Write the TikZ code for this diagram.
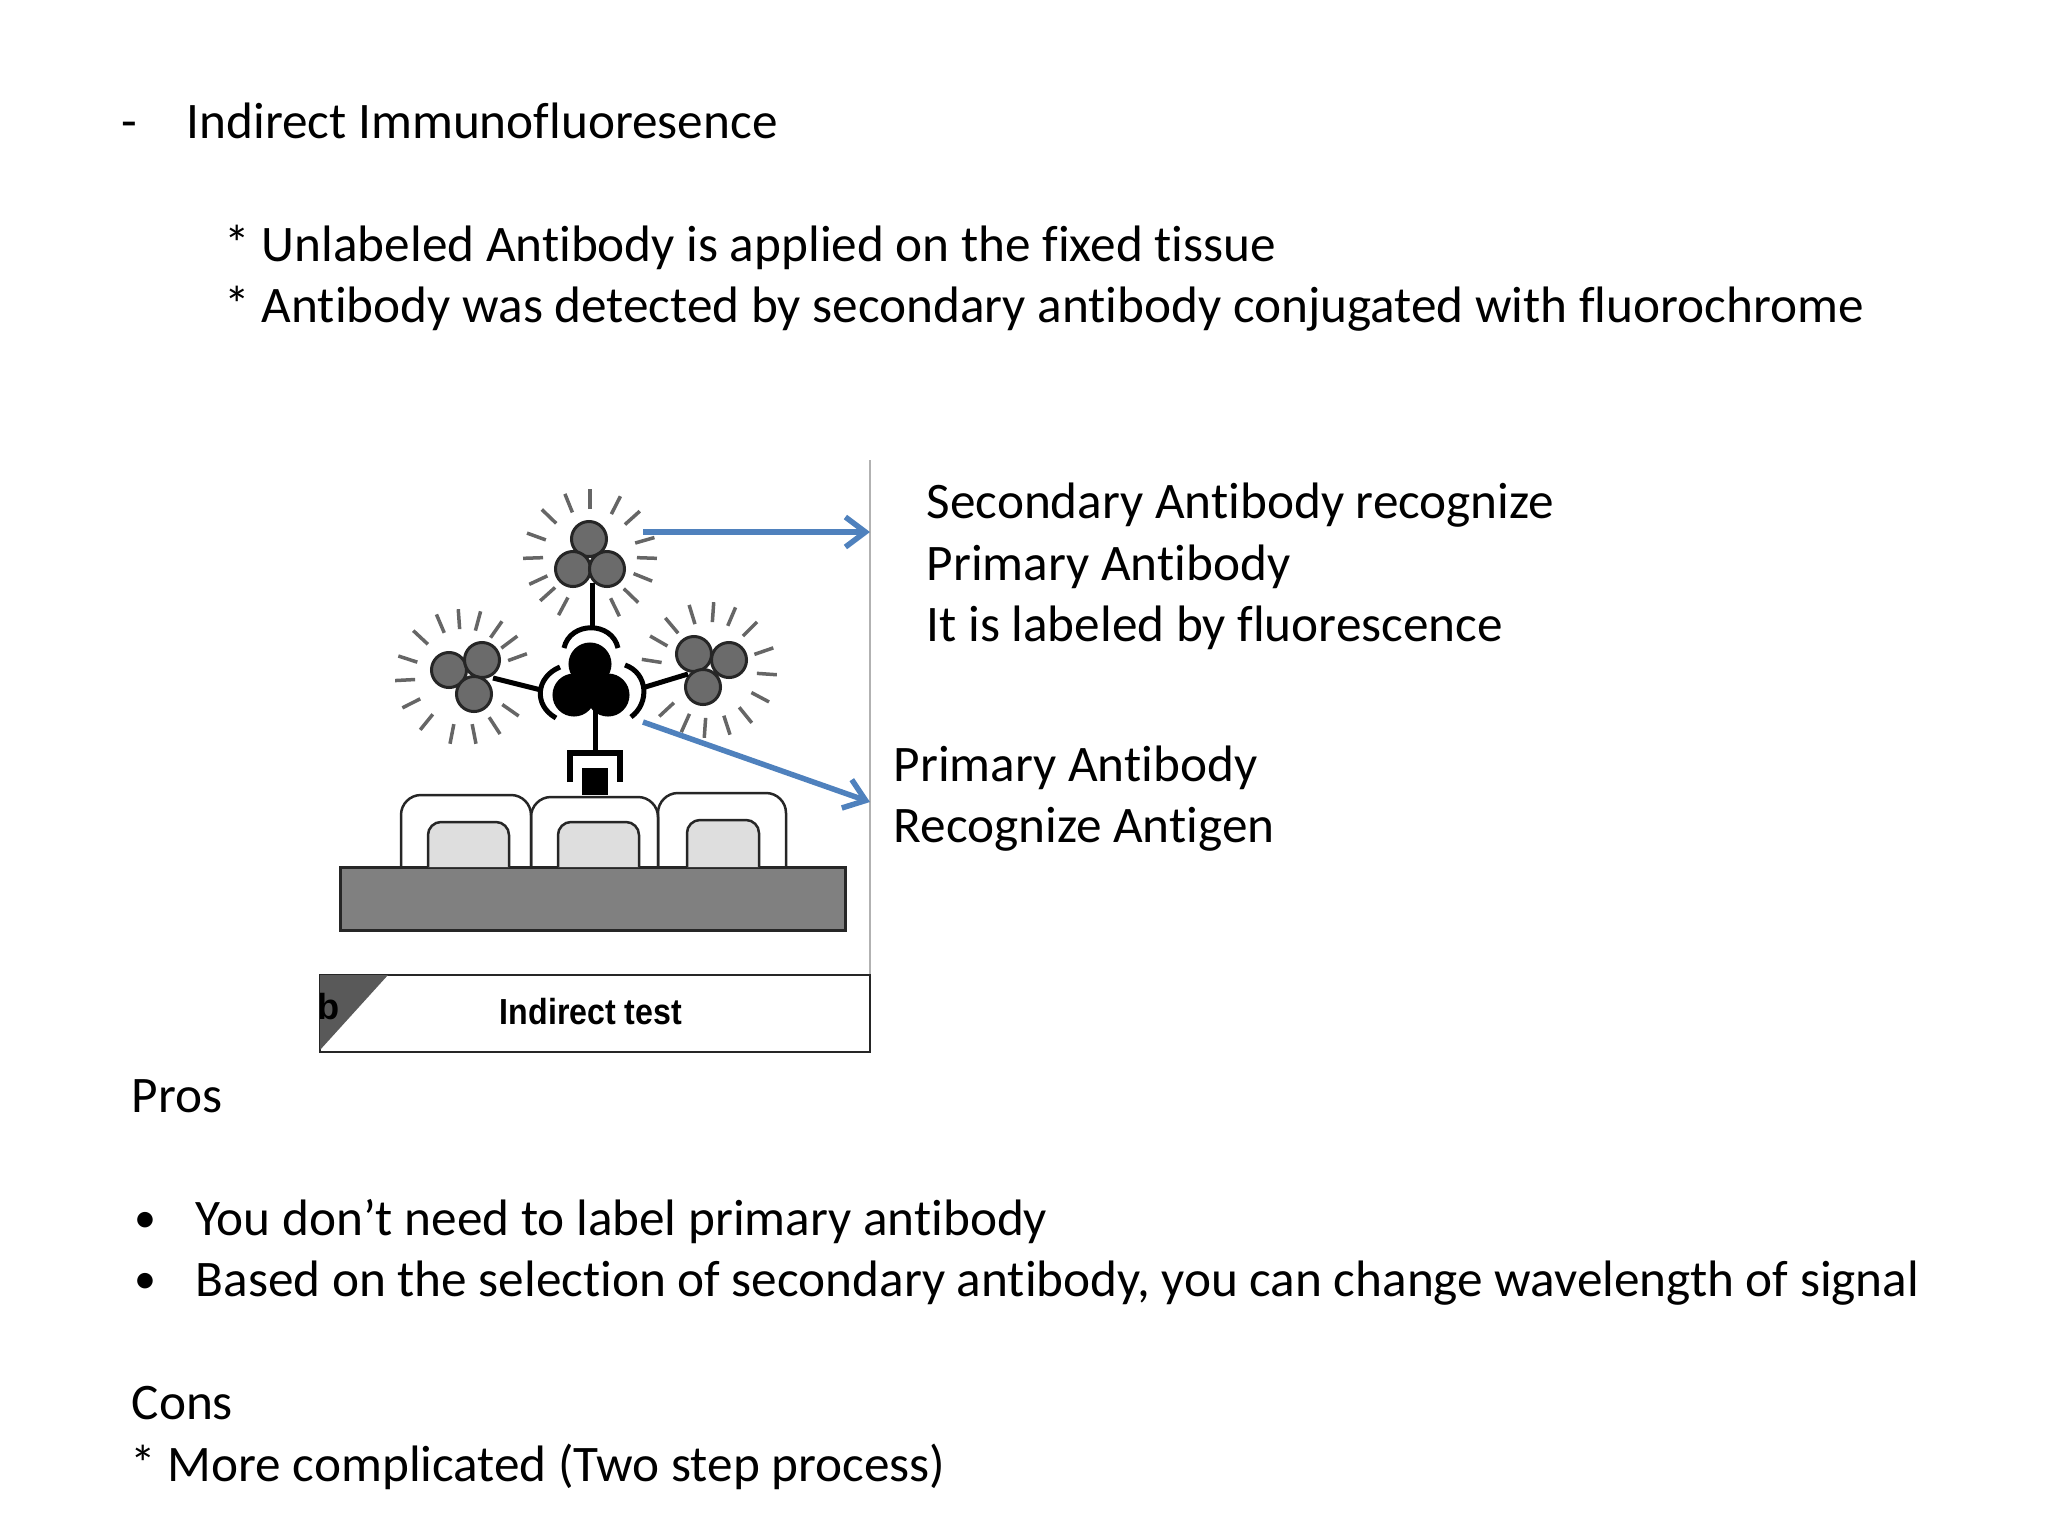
\documentclass[tikz,border=0pt]{standalone}
\usepackage{fontspec}
\setmainfont[Ligatures=NoCommon]{Carlito}
\newfontfamily\labelfont{Liberation Sans}
\usetikzlibrary{arrows.meta}
\definecolor{arrowblue}{HTML}{4F81BD}
\begin{document}
\begin{tikzpicture}[x=0.01cm,y=-0.01cm]
\tikzstyle{txt}    = [anchor=base west, inner sep=0pt, font=\fontsize{14.57pt}{17.5pt}\selectfont]
\tikzstyle{bul}    = [txt, font=\fontsize{12.5pt}{15pt}\selectfont]
\tikzstyle{tag}    = [inner sep=0pt, font=\labelfont\bfseries\fontsize{10.3pt}{11pt}\selectfont]
\tikzstyle{ball}   = [circle, minimum size=0.35cm, inner sep=0pt, draw=black!85, line width=0.03cm, fill=black!58]
\tikzstyle{inkball}= [ball, minimum size=0.4cm, draw=black, fill=black]
\tikzstyle{ray}    = [draw=black!60, line width=0.035cm]
\tikzstyle{ink}    = [draw=black, line width=0.05cm]
\tikzstyle{thin}   = [draw=black!85, line width=0.025cm]
\tikzstyle{callout}= [draw=arrowblue, line width=0.055cm, -{Straight Barb[length=0.2cm,width=0.3cm]}]
\useasboundingbox (0,0) rectangle (2048,1536);
 %%Text
\node [txt](dash) at (121,138) {-};
\node [txt](title) at (186,138) {Indirect Immunofluoresence};
\node [txt](note1) at (224,261) {* Unlabeled Antibody is applied on the fixed tissue};
\node [txt](note2) at (224,322) {* Antibody was detected by secondary antibody conjugated with fluorochrome};
\node [txt](sec1) at (926,518) {Secondary Antibody recognize};
\node [txt](sec2) at (926,580) {Primary Antibody};
\node [txt](sec3) at (926,641) {It is labeled by fluorescence};
\node [txt](pri1) at (893,781) {Primary Antibody};
\node [txt](pri2) at (893,842) {Recognize Antigen};
\node [txt](pros) at (131,1112) {Pros};
\node [bul](bul1) at (134,1232) {•};
\node [txt](pro1) at (195,1235) {You don’t need to label primary antibody};
\node [bul](bul2) at (134,1293) {•};
\node [txt](pro2) at (195,1296) {Based on the selection of secondary antibody, you can change wavelength of signal};
\node [txt](cons) at (131,1419) {Cons};
\node [txt](con1) at (130,1481) {* More complicated (Two step process)};
 %%Frame of the figure
\draw [draw=black!30, line width=0.02cm] (870,460)--(870,975);
\draw [thin] (320,975)--(870,975)--(870,1052)--(320,1052)--cycle;
\fill [black!65] (320,975)--(388,975)--(320,1050)--cycle;
\begin{scope}
\clip (320,975)--(388,975)--(320,1050)--cycle;
\node [tag](tagb) at (329,1007) {b};
\end{scope}
\node [tag](caption) at (591,1012) {\scalebox{0.887}[1]{Indirect test}};
 %%Tissue
\draw [thin, line width=0.03cm, fill=black!50] (340,867) rectangle (845,930);
\draw [thin, rounded corners=0.2cm] (401,867)--(401,795)--(531,795)--(531,867);
\draw [thin, rounded corners=0.2cm] (531,867)--(531,797)--(658,797)--(658,867);
\draw [thin, rounded corners=0.2cm] (658,867)--(658,793)--(786,793)--(786,867);
\draw [thin, fill=black!13, rounded corners=0.13cm] (428,867)--(428,822)--(509,822)--(509,867);
\draw [thin, fill=black!13, rounded corners=0.13cm] (558,867)--(558,822)--(639,822)--(639,867);
\draw [thin, fill=black!13, rounded corners=0.13cm] (687,867)--(687,820)--(759,820)--(759,867);
 %%Primary antibody
\fill (582,768) rectangle (608,795);
\draw [ink, line width=0.055cm] (570,782)--(570,753)--(620,753)--(620,782);
\node [inkball](p1) at (590,664) {};
\node [inkball](p2) at (574,695) {};
\node [inkball](p3) at (608,695) {};
\coordinate (pfoot) at (595,708);
\coordinate (phand) at (595,753);
\draw [ink] (pfoot)--(phand);
 %%Secondary antibodies
\node [ball](t1) at (589,539) {};
\node [ball](t2) at (573,569) {};
\node [ball](t3) at (607,569) {};
\node [ball](l1) at (449,670) {};
\node [ball](l2) at (482,660) {};
\node [ball](l3) at (474,694) {};
\node [ball](r1) at (694,654) {};
\node [ball](r2) at (729,660) {};
\node [ball](r3) at (703,687) {};
\coordinate (tfoot) at (592,583);
\coordinate (thand) at (592,627);
\coordinate (lfoot) at (493,678);
\coordinate (lhand) at (541,690);
\coordinate (rfoot) at (688,674);
\coordinate (rhand) at (642,688);
\draw [ink] (tfoot)--(thand);
\draw [ink] (lfoot)--(lhand);
\draw [ink] (rfoot)--(rhand);
\draw [ink] (564,648) .. controls (570,621) and (612,621) .. (618,648);
\draw [ink] (560,667) .. controls (536,677) and (533,705) .. (556,718);
\draw [ink] (625,665) .. controls (648,673) and (650,703) .. (631,717);
 %%Glow
\coordinate (tglow) at (590,556);
\coordinate (lglow) at (463,677);
\coordinate (rglow) at (709,670);
\foreach \a in {-112,-90,-63,-42,-16,2,22,44,64,118,138,155,178,200,224}
  \draw [ray] (tglow) ++(\a:47) -- ++(\a:20);
\foreach \a in {-137,-113,-94,-75,-55,-37,-20,35,57,79,101,129,153,177,198}
  \draw [ray] (lglow) ++(\a:48) -- ++(\a:20);
\foreach \a in {-130,-107,-86,-67,-45,-19,4,28,51,72,94,114,137,189,210}
  \draw [ray] (rglow) ++(\a:48) -- ++(\a:20);
 %%Callouts
\coordinate (sfrom) at (643,532);
\coordinate (sto) at (870,532);
\coordinate (pfrom) at (643,722);
\coordinate (pto) at (870,802);
\draw [callout] (sfrom)--(sto);
\draw [callout] (pfrom)--(pto);
\end{tikzpicture}
\end{document}
